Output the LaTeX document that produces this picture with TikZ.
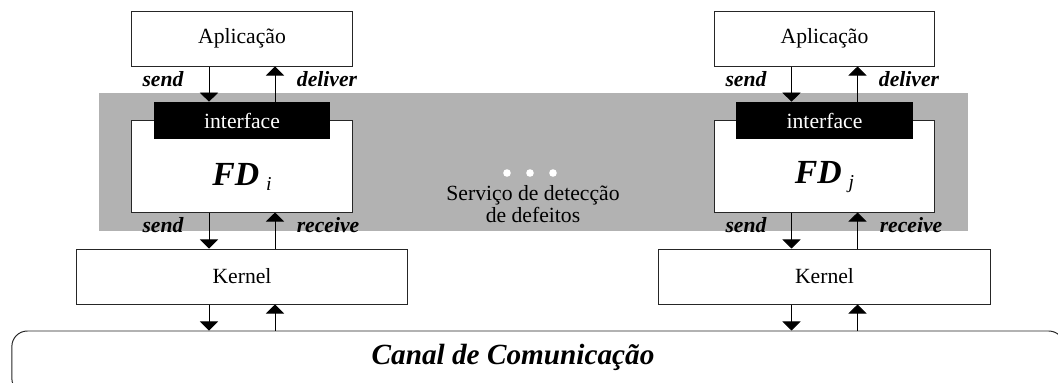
\documentclass[tikz,border=0pt]{standalone}
\usepackage{fontspec}
\setmainfont{Liberation Serif}
\usetikzlibrary{arrows.meta,calc}

\newcommand{\fdname}[1]{{\fontsize{24}{28}\selectfont\bfseries\itshape FD}\hspace{5pt}\raisebox{-3pt}{\fontsize{14}{16}\selectfont\itshape #1}}

\begin{document}
\begin{tikzpicture}[x=0.025cm,y=-0.025cm,
    every node/.style={font=\fontsize{15.4}{16.5}\selectfont},
    box/.style={draw=black!85,line width=0.7pt,fill=white,inner sep=0pt,
        minimum width=5.5cm,minimum height=1.375cm},
    iface/.style={fill=black,text=white,inner sep=0pt,
        minimum width=4.4cm,minimum height=0.925cm},
    lbl/.style={font=\fontsize{15.4}{16.5}\selectfont\bfseries\itshape},
    flow/.style={line width=0.6pt,-{Triangle[width=13pt,length=6.5pt]}}]
    \useasboundingbox (0,0) rectangle (1058,382);
    \clip (0,0) rectangle (1058,382);

    % service band
    \fill[black!30] (99,93) rectangle (968,231);

    % nodes
    \node[box] (appi) at (242,38.5) {Aplicação};
    \node[box] (appj) at (824.5,38.5) {Aplicação};

    \node[box,minimum height=2.275cm] (fdi) at (242,166.5) {};
    \node[box,minimum height=2.275cm] (fdj) at (824.5,166.5) {};
    \node[iface] (ifi) at (242,120.5) {interface};
    \node[iface] (ifj) at (824.5,120.5) {interface};
    \node (fdilbl) at (242,177) {\fdname{i}};
    \node (fdjlbl) at (824.5,177) {\fdname{j}};

    \node[box,minimum width=8.275cm] (kni) at (242,276.5) {Kernel};
    \node[box,minimum width=8.275cm] (knj) at (824.5,276.5) {Kernel};

    \node[draw=black!85,line width=0.7pt,rounded corners=11pt,
        minimum width=26.3cm,minimum height=1.575cm] (canal) at (538,362.5) {};
    \node[font=\fontsize{20.8}{24}\selectfont\bfseries\itshape] (canallbl) at (513,357) {Canal de Comunicação};

    \fill[white] (507,173) circle (2.7pt);
    \fill[white] (530,173) circle (2.7pt);
    \fill[white] (553,173) circle (2.7pt);
    \node[align=center,font=\fontsize{15.4}{15.6}\selectfont] (srv) at (533,204) {Serviço de detecção\\de defeitos};

    % labels
    \node[lbl] (sndai) at (163,79) {send};
    \node[lbl] (dlvi) at (327,79) {deliver};
    \node[lbl] (sndki) at (163,225) {send};
    \node[lbl] (rcvi) at (328,225) {receive};
    \node[lbl] (sndaj) at (746,79) {send};
    \node[lbl] (dlvj) at (909,79) {deliver};
    \node[lbl] (sndkj) at (746,225) {send};
    \node[lbl] (rcvj) at (911,225) {receive};

    % edges
    \draw[flow] ($(appi.south)+(-33,0)$) -- ($(ifi.north)+(-33,0)$);
    \draw[flow] ($(ifi.north)+(33,0)$) -- ($(appi.south)+(33,0)$);
    \draw[flow] ($(fdi.south)+(-33,0)$) -- ($(kni.north)+(-33,0)$);
    \draw[flow] ($(kni.north)+(33,0)$) -- ($(fdi.south)+(33,0)$);
    \draw[flow] ($(kni.south)+(-33,0)$) -- ($(canal.north -| kni.south)+(-33,0)$);
    \draw[flow] ($(canal.north -| kni.south)+(33,0)$) -- ($(kni.south)+(33,0)$);

    \draw[flow] ($(appj.south)+(-33,0)$) -- ($(ifj.north)+(-33,0)$);
    \draw[flow] ($(ifj.north)+(33,0)$) -- ($(appj.south)+(33,0)$);
    \draw[flow] ($(fdj.south)+(-33,0)$) -- ($(knj.north)+(-33,0)$);
    \draw[flow] ($(knj.north)+(33,0)$) -- ($(fdj.south)+(33,0)$);
    \draw[flow] ($(knj.south)+(-33,0)$) -- ($(canal.north -| knj.south)+(-33,0)$);
    \draw[flow] ($(canal.north -| knj.south)+(33,0)$) -- ($(knj.south)+(33,0)$);
\end{tikzpicture}
\end{document}
